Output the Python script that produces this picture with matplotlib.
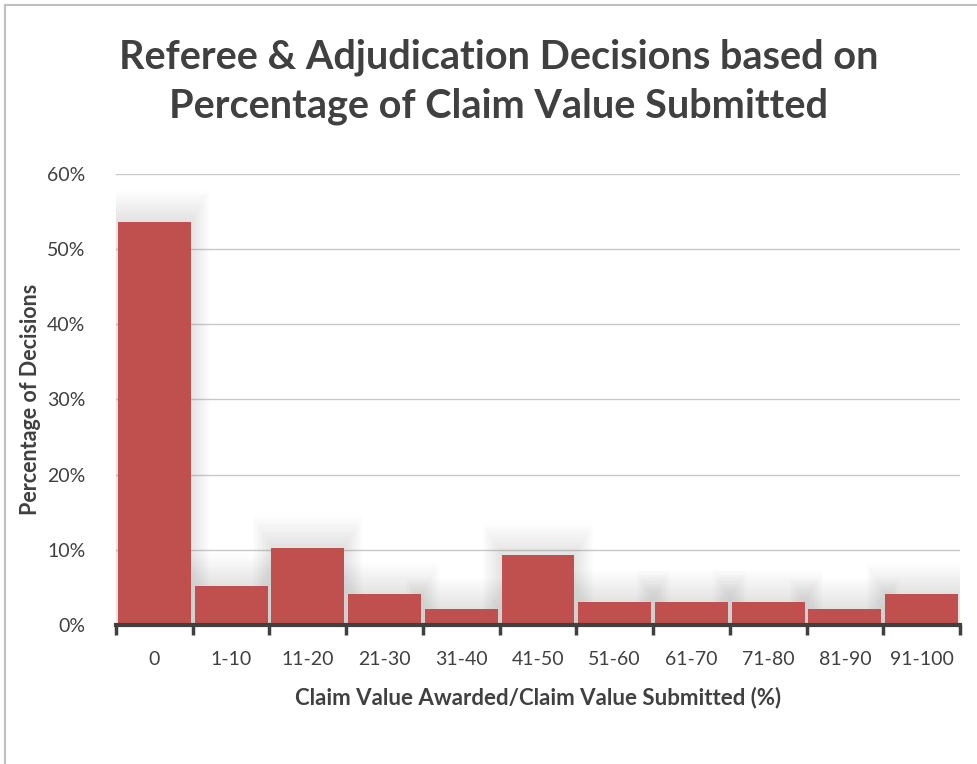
import matplotlib.pyplot as plt
import numpy as np
from matplotlib.ticker import PercentFormatter, FixedLocator

categories = ["0", "1-10", "11-20", "21-30", "31-40", "41-50",
              "51-60", "61-70", "71-80", "81-90", "91-100"]
# share of decisions (97 decisions in total)
shares = [0.536, 0.052, 0.103, 0.041, 0.021, 0.093,
          0.031, 0.031, 0.031, 0.021, 0.041]

plt.rcParams['font.family'] = ['Lato', 'DejaVu Sans']
text_col = "#404040"

fig = plt.figure(figsize=(9.77, 7.64), dpi=100)
ax = fig.add_axes([0.1187, 0.1819, 0.8639, 0.5904])

x = np.arange(len(categories))

# soft glow behind the bars
for k in range(1, 15):
    ax.bar(x, np.array(shares) + 0.003 * k, width=0.95 + 0.035 * k,
           color="#808080", alpha=0.011, zorder=1, linewidth=0)

ax.bar(x, shares, width=0.95, color="#C0504D", zorder=3, linewidth=0)

ax.set_xlim(-0.5, len(categories) - 0.5)
ax.set_ylim(0, 0.6)
ax.yaxis.set_major_formatter(PercentFormatter(1.0, decimals=0))
ax.set_yticks(np.arange(0, 0.61, 0.1))
ax.grid(axis="y", color="#c8c8c8", linewidth=1, zorder=0)
ax.set_axisbelow(True)

# ticks at the bar boundaries, labels at the centres
ax.xaxis.set_major_locator(FixedLocator(np.arange(-0.5, len(categories), 1.0)))
ax.xaxis.set_minor_locator(FixedLocator(x))
ax.set_xticklabels([])
ax.set_xticks(x, minor=True)
ax.set_xticklabels(categories, minor=True)
ax.tick_params(axis="x", which="major", length=7, width=2.5, color="#404040", direction="out")
ax.tick_params(axis="x", which="minor", length=0, pad=19, labelsize=14, labelcolor=text_col)
ax.tick_params(axis="y", length=0, pad=22, labelsize=14, labelcolor=text_col)

for s in ["top", "right", "left"]:
    ax.spines[s].set_visible(False)
ax.spines["bottom"].set_color("#404040")
ax.spines["bottom"].set_linewidth(3)
ax.spines["bottom"].set_zorder(4)

ax.set_xlabel("Claim Value Awarded/Claim Value Submitted (%)", fontsize=16,
              fontweight="bold", color=text_col, labelpad=13)
ax.set_ylabel("Percentage of Decisions", fontsize=15.5, fontweight="bold",
              color=text_col, labelpad=4)

fig.text(0.51, 0.893, "Referee & Adjudication Decisions based on\nPercentage of Claim Value Submitted",
         ha="center", va="center", fontsize=28.5, fontweight="bold", color=text_col,
         linespacing=1.4)

# chart border
fig.add_artist(plt.Line2D([0.005, 0.005], [0, 0.993], color="#c0c0c0", linewidth=1.5))
fig.add_artist(plt.Line2D([0.005, 1], [0.993, 0.993], color="#c0c0c0", linewidth=1.5))

fig.savefig("out.png", dpi=100)
